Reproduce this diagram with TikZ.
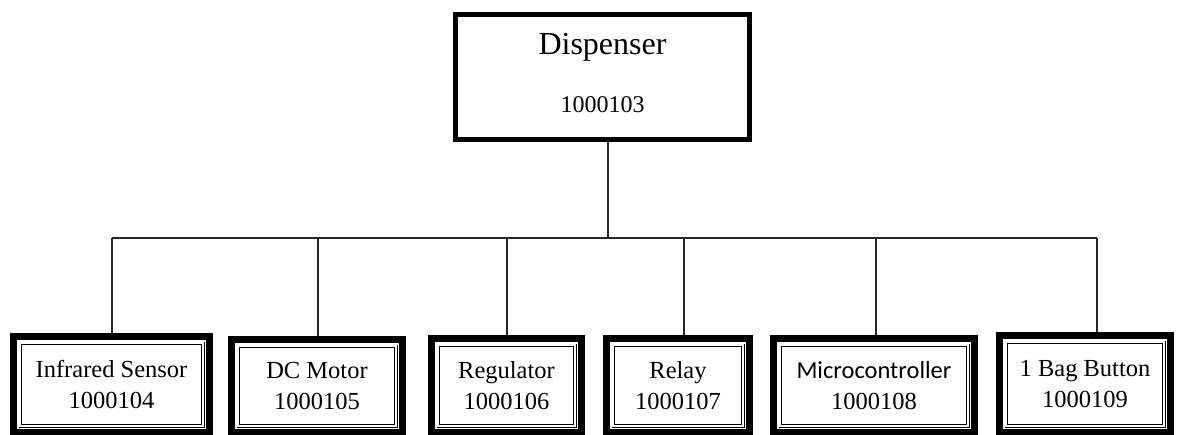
\documentclass[tikz,border=0pt]{standalone}
\usepackage{fontspec}
\setmainfont{Liberation Serif}
\newfontfamily\calibrilike{Carlito}
\begin{document}
\begin{tikzpicture}[x=1pt,y=-1pt,
  topbox/.style={draw, line width=5pt, outer sep=2.5pt, inner sep=0pt,
    minimum width=294pt, minimum height=125pt, align=center,
    font=\fontsize{24}{58}\selectfont},
  partbox/.style={draw, line width=7pt, outer sep=3.5pt, inner sep=0pt,
    minimum height=96pt, align=center,
    font=\fontsize{24.5}{31}\selectfont},
  innerframe/.style={draw, line width=0.9pt, double, double distance=1.6pt},
  wire/.style={line width=1.2pt, black!85}
]
\useasboundingbox (0,0) rectangle (1178,434);
\clip (0,0) rectangle (1178,434);

% top level assembly
\node[topbox] (disp) at (602.5,77)
  {{\fontsize{32}{38}\selectfont Dispenser}\\1000103\rule[-8pt]{0pt}{0pt}};

% parts
\node[partbox, minimum width=196pt] (b1) at (111.5,384.5) {Infrared Sensor\\1000104};
\node[partbox, minimum width=171pt, minimum height=93pt] (b2) at (317,386) {DC Motor\\1000105};
\node[partbox, minimum width=150pt, minimum height=94pt] (b3) at (506.5,385.5) {Regulator\\1000106};
\node[partbox, minimum width=143pt, minimum height=94pt] (b4) at (678,385.5) {Relay\\1000107};
\node[partbox, minimum width=201pt, minimum height=94pt] (b5) at (874,385.5)
  {{\calibrilike Microcontroller}\\1000108};
\node[partbox, minimum width=171pt, minimum height=97pt] (b6) at (1085,384) {1 Bag Button\\1000109};

% inner double frames of the part boxes
\foreach \b in {b1,b2,b3,b4,b5,b6}
  \draw[innerframe] ([shift={(10.2pt,-10.2pt)}]\b.north west)
    rectangle ([shift={(-10.2pt,10.2pt)}]\b.south east);

% bus junctions
\coordinate (j0) at (608,238);
\coordinate (j1) at (112,238);
\coordinate (j2) at (318,238);
\coordinate (j3) at (507,238);
\coordinate (j4) at (684,238);
\coordinate (j5) at (876,238);
\coordinate (j6) at (1097,238);

% connectors
\draw[wire] (j0 |- disp.south) -- (j0);
\draw[wire] (j1) -- (j6);
\draw[wire] (j1) -- (j1 |- b1.north);
\draw[wire] (j2) -- (j2 |- b2.north);
\draw[wire] (j3) -- (j3 |- b3.north);
\draw[wire] (j4) -- (j4 |- b4.north);
\draw[wire] (j5) -- (j5 |- b5.north);
\draw[wire] (j6) -- (j6 |- b6.north);
\end{tikzpicture}
\end{document}
